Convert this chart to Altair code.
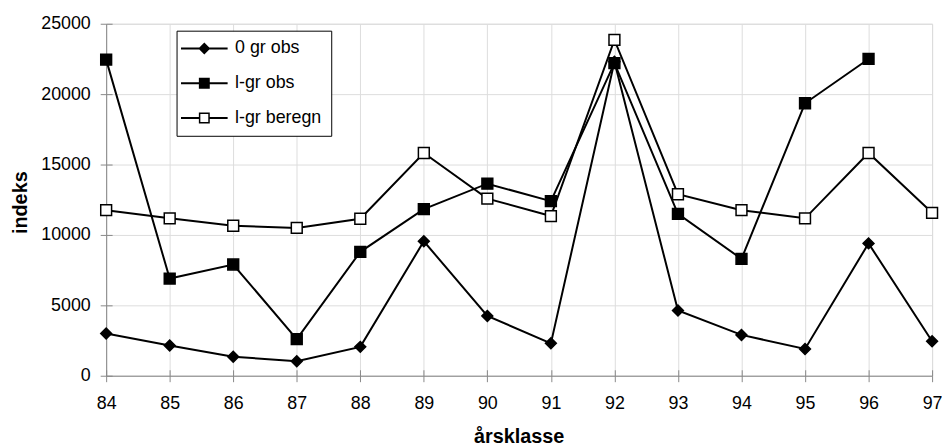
import altair as alt
import pandas as pd

years = [84, 85, 86, 87, 88, 89, 90, 91, 92, 93, 94, 95, 96, 97]
zero_gr_obs = [3000, 2150, 1350, 1030, 2050, 9550, 4250, 2300, 22300, 4630, 2900, 1900, 9400, 2450]
lgr_obs = [22450, 6900, 7900, 2600, 8800, 11830, 13640, 12400, 22200, 11500, 8300, 19350, 22500, None]
lgr_beregn = [11760, 11180, 10650, 10500, 11150, 15820, 12580, 11340, 23850, 12890, 11760, 11180, 15820, 11570]

series_names = ["0 gr obs", "l-gr obs", "l-gr beregn"]
y_ticks = [0, 5000, 10000, 15000, 20000, 25000]

rows = []
for name, vals in zip(series_names, [zero_gr_obs, lgr_obs, lgr_beregn]):
    for yr, v in zip(years, vals):
        if v is not None:
            rows.append({"year": yr, "value": v, "series": name})
df = pd.DataFrame(rows)

FONT = "Liberation Sans"
x_scale = alt.Scale(domain=[84, 97], nice=False, zero=False)
y_scale = alt.Scale(domain=[0, 25000], nice=False)

x_enc = alt.X(
    "year:Q", scale=x_scale,
    axis=alt.Axis(
        values=years, format="d", title="årsklasse", labelFontSize=18,
        labelPadding=13, labelFlush=False, tickSize=6, titleFontSize=20,
        titleFontWeight="bold", titleX=416, titleY=67, titleBaseline="alphabetic",
        orient="bottom",
    ),
)
y_enc = alt.Y(
    "value:Q", scale=y_scale,
    axis=alt.Axis(
        values=y_ticks, format="d", title="indeks", labelFontSize=18,
        labelPadding=10, labelFlush=False, tickSize=6, titleFontSize=20,
        titleFontWeight="bold", titleX=-80, titleY=180, titleBaseline="alphabetic",
        orient="left",
    ),
)

lines = alt.Chart(df).mark_line(color="black", strokeWidth=2).encode(
    x=x_enc, y=y_enc, detail="series:N"
)

points = alt.Chart(df).mark_point(filled=True, stroke="black", strokeWidth=1.5, opacity=1).encode(
    x=x_enc,
    y=y_enc,
    shape=alt.Shape(
        "series:N",
        scale=alt.Scale(domain=series_names, range=["diamond", "square", "square"]),
        legend=None,
    ),
    fill=alt.Fill(
        "series:N",
        scale=alt.Scale(domain=series_names, range=["black", "black", "white"]),
        legend=None,
    ),
    size=alt.value(120),
)

main = alt.layer(lines, points)

# legend glyphs: line + marker, drawn as filled outlines (open square is a ring)
legend_paths = [
    "M-4.7,-0.2H4.7V0.2H-4.7ZM0,-1.2L1.2,0L0,1.2L-1.2,0Z",
    "M-4.7,-0.2H4.7V0.2H-4.7ZM-1.1,-1.1H1.1V1.1H-1.1Z",
    "M-4.7,-0.2H-1.1V0.2H-4.7ZM1.1,-0.2H4.7V0.2H1.1Z"
    "M-1.1,-1.1H1.1V1.1H-1.1ZM-0.8,-0.8V0.8H0.8V-0.8Z",
]
leg = alt.Legend(
    title=None, orient="none", legendX=71, legendY=7,
    strokeColor="black", fillColor="white", padding=9, rowPadding=17,
    labelFontSize=18, labelFont=FONT, labelColor="black", labelOffset=22,
    symbolOffset=10, symbolSize=100, symbolOpacity=1,
)

# empty layer: carries the legend (from explicit scale domains) and inner tick halves
extra = alt.Chart(df).transform_filter("datum.value < 0").mark_point(
    filled=True, color="black"
).encode(
    x=alt.X("year:Q", scale=x_scale, axis=alt.Axis(
        values=years, orient="bottom", offset=-6, tickSize=6, labels=False,
        domain=False, title=None)),
    y=alt.Y("value:Q", scale=y_scale, axis=alt.Axis(
        values=y_ticks, orient="left", offset=-6, tickSize=6, labels=False,
        domain=False, title=None)),
    shape=alt.Shape("series:N", scale=alt.Scale(domain=series_names, range=legend_paths), legend=leg),
)

chart = (
    alt.layer(main, extra)
    .resolve_scale(x="independent", y="independent", shape="independent", fill="independent")
    .resolve_axis(x="independent", y="independent")
    .properties(
        width=833, height=355,
        autosize=alt.AutoSizeParams(type="none"),
        padding={"left": 99, "top": 14, "right": 10, "bottom": 70},
    )
    .configure_view(stroke="black", strokeWidth=1)
    .configure_axis(
        labelFont=FONT, titleFont=FONT, labelColor="black", titleColor="black",
        domainColor="black", tickColor="black", grid=False, domainWidth=1.5, tickWidth=1,
    )
    .configure(background="white")
)

chart.save("out.html", embed_options={"renderer": "svg", "actions": False})
